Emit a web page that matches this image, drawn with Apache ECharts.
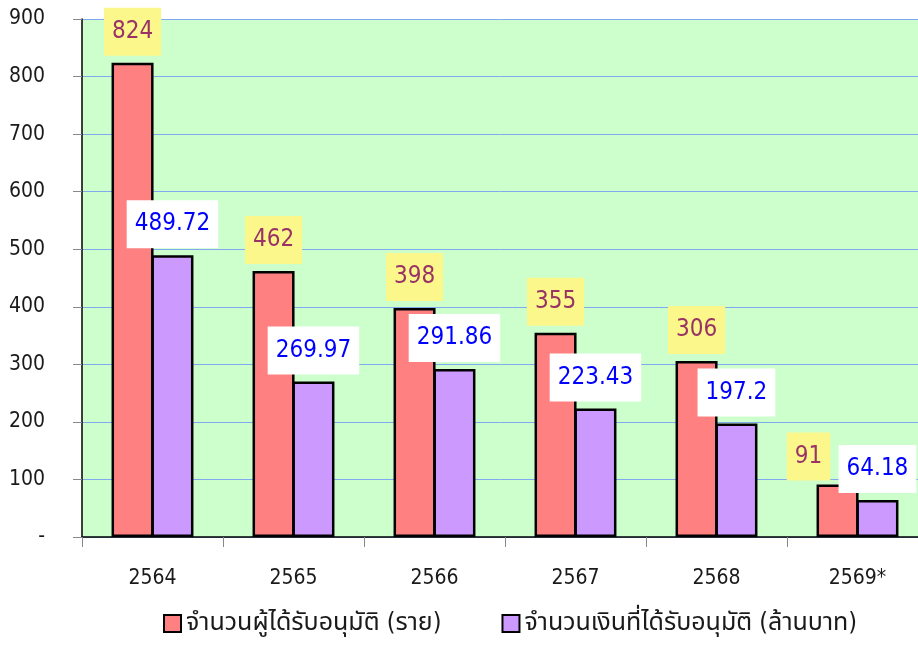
<!DOCTYPE html>
<html>
<head>
<meta charset="utf-8">
<script src="https://cdn.jsdelivr.net/npm/echarts@6/dist/echarts.min.js"></script>
<style>
html,body{margin:0;padding:0;background:#fff;}
#c{width:918px;height:647px;}
</style>
</head>
<body>
<div id="c"></div>
<script>
const categories = ['2564', '2565', '2566', '2567', '2568', '2569*'];
const seriesNames = ['จำนวนผู้ได้รับอนุมัติ (ราย)', 'จำนวนเงินที่ได้รับอนุมัติ (ล้านบาท)'];
const approvedCount = [824, 462, 398, 355, 306, 91];
const approvedAmount = [489.72, 269.97, 291.86, 223.43, 197.2, 64.18];
const yTicks = [0, 100, 200, 300, 400, 500, 600, 700, 800, 900];

const FONT = "'DejaVu Sans Condensed', 'DejaVu Sans', 'Noto Sans Thai', 'Noto Sans', sans-serif";

const chart = echarts.init(document.getElementById('c'), null, {renderer: 'canvas'});

const countData = approvedCount.map((v, i) => {
  if (i === approvedCount.length - 1) {
    return {value: v, label: {offset: [-29, 3]}};
  }
  return v;
});

chart.setOption({
  animation: false,
  backgroundColor: '#ffffff',
  textStyle: {fontFamily: FONT},
  grid: {
    left: 82, top: 19, width: 846, height: 518,
    outerBoundsMode: 'none', containLabel: false,
    show: true, backgroundColor: '#CCFFCC', borderWidth: 0
  },
  legend: {
    bottom: 6,
    left: 158,
    itemWidth: 17,
    itemHeight: 17,
    itemGap: 60,
    icon: 'rect',
    itemStyle: {borderColor: '#000', borderWidth: 2},
    textStyle: {fontFamily: FONT, fontSize: 25, color: '#1a1a1a'},
    data: seriesNames
  },
  xAxis: {
    type: 'category',
    data: categories,
    axisLine: {lineStyle: {color: '#000', width: 1.5}},
    axisTick: {show: true, length: 10, lineStyle: {color: '#888'}},
    axisLabel: {fontFamily: FONT, fontSize: 21, color: '#1a1a1a', margin: 31},
    splitLine: {show: false}
  },
  yAxis: {
    type: 'value',
    min: yTicks[0],
    max: yTicks[yTicks.length - 1],
    interval: 100,
    axisLine: {show: true, lineStyle: {color: '#000', width: 1.5}},
    axisTick: {show: true, length: 9, lineStyle: {color: '#888'}},
    axisLabel: {
      fontFamily: FONT, fontSize: 21, color: '#1a1a1a', margin: 37,
      formatter: v => (v === 0 ? '-' : String(v))
    },
    splitLine: {show: true, lineStyle: {color: '#7FAAF0', width: 1}}
  },
  series: [
    {
      name: seriesNames[0],
      type: 'bar',
      data: countData,
      barWidth: 42,
      barGap: '-5%',
      itemStyle: {color: '#FF8080', borderColor: '#000', borderWidth: 2.5},
      label: {
        show: true,
        position: 'top',
        distance: 7,
        fontFamily: FONT,
        fontSize: 24,
        lineHeight: 24,
        color: '#993366',
        backgroundColor: '#FBF78A',
        padding: [12, 8, 12, 8]
      }
    },
    {
      name: seriesNames[1],
      type: 'bar',
      data: approvedAmount,
      barWidth: 42,
      barGap: '-5%',
      itemStyle: {color: '#CC99FF', borderColor: '#000', borderWidth: 2.5},
      label: {
        show: true,
        position: 'top',
        distance: 7,
        fontFamily: FONT,
        fontSize: 24,
        lineHeight: 24,
        color: '#0000FF',
        backgroundColor: '#FFFFFF',
        padding: [12, 8, 12, 8]
      }
    }
  ]
});
</script>
</body>
</html>
